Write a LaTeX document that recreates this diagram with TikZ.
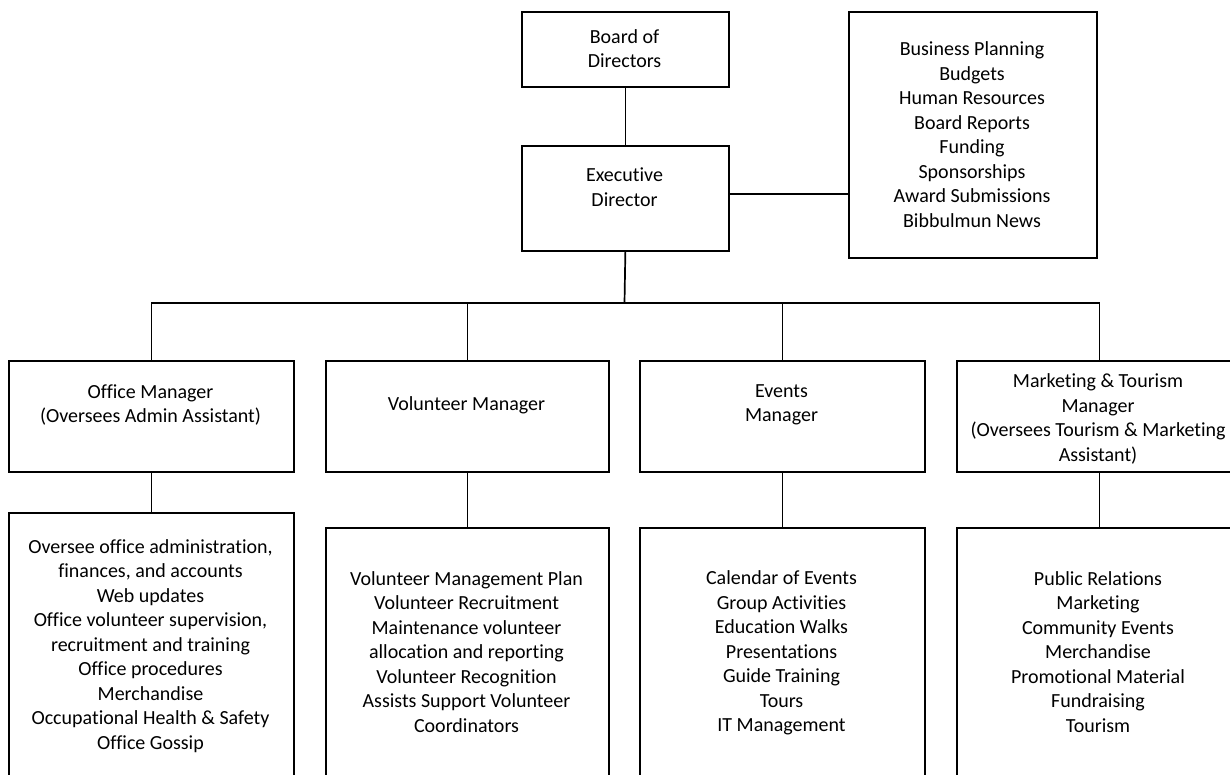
\documentclass[tikz,border=0pt]{standalone}
\usepackage{fontspec}
\setmainfont{Carlito}[Ligatures={NoCommon,NoRequired,NoContextual}]
\begin{document}
\begin{tikzpicture}[x=1pt,y=-1pt,
  box/.style={draw=black, line width=1.7pt, rectangle, inner sep=0pt, anchor=north west},
  txt/.style={inner sep=0pt, align=center, font=\fontsize{20}{24.5}\selectfont},
  conn/.style={draw=black, line width=1.7pt}]
\clip (0,0) rectangle (1230,774);
\fill[white] (0,0) rectangle (1230,774);
% boxes
\node[box, minimum width=207pt, minimum height=75pt] (bod) at (521,11) {};
\node[box, minimum width=207pt, minimum height=105pt] (exec) at (521,145) {};
\node[box, minimum width=248pt, minimum height=246pt] (info) at (848,11) {};
\node[box, minimum width=285pt, minimum height=111pt] (om) at (8,360) {};
\node[box, minimum width=283pt, minimum height=111pt] (vm) at (325,360) {};
\node[box, minimum width=285pt, minimum height=111pt] (em) at (639,360) {};
\node[box, minimum width=285pt, minimum height=111pt] (mt) at (956,360) {};
\node[box, minimum width=285pt, minimum height=300pt] (ol) at (8,512) {};
\node[box, minimum width=283pt, minimum height=300pt] (vl) at (325,527) {};
\node[box, minimum width=285pt, minimum height=300pt] (el) at (639,527) {};
\node[box, minimum width=285pt, minimum height=300pt] (ml) at (956,527) {};
% texts
\node[txt] (bodt) at (624.5,48.5) {Board of\\Directors};
\node[txt] (exect) at (624.5,187) {Executive\\Director};
\node[txt] (infot) at (972,134.5) {Business Planning\\Budgets\\Human Resources\\Board Reports\\Funding\\Sponsorships\\Award Submissions\\Bibbulmun News};
\node[txt] (omt) at (150.5,405) {Office Manager\\(Oversees Admin Assistant)};
\node[txt] (vmt) at (466.5,405) {Volunteer Manager};
\node[txt] (emt) at (781.5,405) {Events\\Manager};
\node[txt] (mtt) at (1098,419) {Marketing \& Tourism\\Manager\\(Oversees Tourism \& Marketing\\Assistant)};
\node[txt] (olt) at (150.5,646) {Oversee office administration,\\finances, and accounts\\Web updates\\Office volunteer supervision,\\recruitment and training\\Office procedures\\Merchandise\\Occupational Health \& Safety\\Office Gossip};
\node[txt] (vlt) at (466.5,652) {Volunteer Management Plan\\Volunteer Recruitment\\Maintenance volunteer\\allocation and reporting\\Volunteer Recognition\\Assists Support Volunteer\\Coordinators};
\node[txt] (elt) at (781.5,653) {Calendar of Events\\Group Activities\\Education Walks\\Presentations\\Guide Training\\Tours\\IT Management};
\node[txt] (mlt) at (1098,652) {Public Relations\\Marketing\\Community Events\\Merchandise\\Promotional Material\\Fundraising\\Tourism};
% connectors
\coordinate (bus) at (624.5,303);
\draw[conn] (bod.south) -- (exec.north);
\draw[conn] ([yshift=4.5pt]exec.east) -- ([yshift=4.5pt]exec.east -| info.west);
\draw[conn] (exec.south) -- (bus);
\draw[conn] (om.north) -- (om.north |- bus) -- (mt.north |- bus) -- (mt.north);
\draw[conn] (vm.north) -- (vm.north |- bus);
\draw[conn] (em.north) -- (em.north |- bus);
\draw[conn] (om.south) -- (ol.north);
\draw[conn] (vm.south) -- (vl.north);
\draw[conn] (em.south) -- (el.north);
\draw[conn] (mt.south) -- (ml.north);
\end{tikzpicture}
\end{document}
